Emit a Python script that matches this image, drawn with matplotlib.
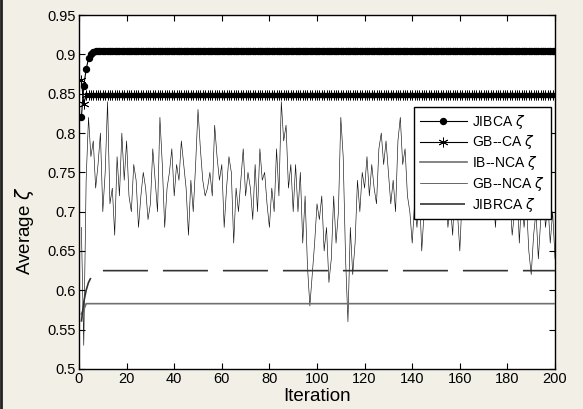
import matplotlib.pyplot as plt
from matplotlib.lines import Line2D

plt.rcParams['font.family'] = ['Liberation Sans', 'DejaVu Sans']
plt.rcParams['mathtext.fontset'] = 'dejavusans'

# iterations 1..200
iters = list(range(1, 201))

# JIBCA: fast rise then steady
jibca = [0.82, 0.86, 0.881, 0.895, 0.901, 0.903, 0.904] + [0.905] * 193
# GB--CA
gbca = [0.867, 0.837] + [0.849] * 198
# IB--NCA
ibnca = [0.57, 0.575] + [0.583] * 198
# JIBRCA
jibrca = [0.56, 0.585, 0.60, 0.61, 0.616, 0.62, 0.622, 0.624] + [0.625] * 192
# GB--NCA (noisy)
gbnca = [
    0.68, 0.53, 0.74, 0.82, 0.77, 0.79, 0.73, 0.76, 0.80, 0.70,
    0.75, 0.84, 0.71, 0.73, 0.67, 0.77, 0.72, 0.80, 0.74, 0.79,
    0.72, 0.70, 0.76, 0.74, 0.68, 0.72, 0.75, 0.73, 0.69, 0.71,
    0.78, 0.74, 0.70, 0.82, 0.76, 0.68, 0.73, 0.75, 0.78, 0.72,
    0.76, 0.74, 0.79, 0.76, 0.73, 0.67, 0.74, 0.70, 0.76, 0.83,
    0.78, 0.74, 0.72, 0.73, 0.75, 0.72, 0.81, 0.77, 0.74, 0.76,
    0.68, 0.73, 0.77, 0.75, 0.66, 0.73, 0.70, 0.74, 0.78, 0.72,
    0.75, 0.73, 0.69, 0.76, 0.70, 0.78, 0.74, 0.75, 0.71, 0.68,
    0.73, 0.70, 0.78, 0.72, 0.84, 0.79, 0.81, 0.73, 0.76, 0.70,
    0.76, 0.70, 0.75, 0.66, 0.72, 0.63, 0.58, 0.62, 0.66, 0.71,
    0.69, 0.72, 0.65, 0.68, 0.61, 0.64, 0.72, 0.66, 0.70, 0.82,
    0.77, 0.64, 0.56, 0.68, 0.62, 0.66, 0.74, 0.70, 0.75, 0.73,
    0.77, 0.72, 0.76, 0.73, 0.71, 0.78, 0.80, 0.76, 0.79, 0.75,
    0.71, 0.74, 0.70, 0.79, 0.82, 0.76, 0.78, 0.72, 0.70, 0.66,
    0.71, 0.68, 0.73, 0.65, 0.70, 0.76, 0.72, 0.80, 0.74, 0.78,
    0.70, 0.75, 0.71, 0.73, 0.68, 0.71, 0.67, 0.74, 0.70, 0.65,
    0.72, 0.78, 0.74, 0.76, 0.72, 0.77, 0.71, 0.75, 0.73, 0.79,
    0.74, 0.70, 0.76, 0.72, 0.68, 0.74, 0.71, 0.77, 0.73, 0.69,
    0.72, 0.67, 0.70, 0.74, 0.66, 0.72, 0.68, 0.71, 0.65, 0.62,
    0.67, 0.70, 0.64, 0.69, 0.73, 0.68, 0.71, 0.66, 0.70, 0.64,
]

labels = [r'JIBCA $\zeta$', r'GB--CA $\zeta$', r'IB--NCA $\zeta$',
          r'GB--NCA $\zeta$', r'JIBRCA $\zeta$']

bg = '#f2efe6'
fig = plt.figure(figsize=(5.83, 4.09), dpi=100, facecolor=bg)
ax = fig.add_axes([0.1355, 0.098, 0.8165, 0.865])

ax.plot(iters, gbnca, color='#111111', lw=0.45, label=labels[3], zorder=2)
ax.plot(iters, ibnca, color='#707070', lw=1.2, label=labels[2], zorder=3)
ax.plot(iters, jibrca, color='#333333', lw=1.2, dashes=(27, 9), label=labels[4], zorder=3)
ax.plot(iters, gbca, color='black', lw=0.8, marker=(6, 2, 0), ms=7, mew=0.6,
        label=labels[1], zorder=4)
ax.plot(iters, jibca, color='black', lw=0.8, marker='o', ms=4.3, label=labels[0], zorder=5)

ax.set_xlim(0, 200)
ax.set_ylim(0.5, 0.95)
ax.set_xticks(range(0, 201, 20))
ax.set_yticks([0.5, 0.55, 0.6, 0.65, 0.7, 0.75, 0.8, 0.85, 0.9, 0.95])
ax.set_yticklabels(['0.5', '0.55', '0.6', '0.65', '0.7', '0.75', '0.8', '0.85', '0.9', '0.95'])
ax.tick_params(direction='in', top=True, right=True, labelsize=10.5, length=4, width=0.8, pad=2)
for s in ax.spines.values():
    s.set_linewidth(1.0)

ax.set_xlabel('Iteration', fontsize=13.5, labelpad=2)
ax.set_ylabel(r'Average $\zeta$', fontsize=13.5)
ax.yaxis.set_label_coords(-0.09, 0.39)

h, l = ax.get_legend_handles_labels()
order = [l.index(x) for x in labels]
leg = ax.legend([h[i] for i in order], [l[i] for i in order],
                loc='upper left', bbox_to_anchor=(0.704, 0.74), fontsize=10,
                fancybox=False, framealpha=1, edgecolor='black', handlelength=3.4,
                borderaxespad=0, labelspacing=0.2, handletextpad=0.4)
leg.get_frame().set_linewidth(1.0)

fig.add_artist(Line2D([0.002, 0.002], [0, 1], color='#222222', lw=2, transform=fig.transFigure))

fig.savefig('out.png', dpi=100, facecolor=bg)
